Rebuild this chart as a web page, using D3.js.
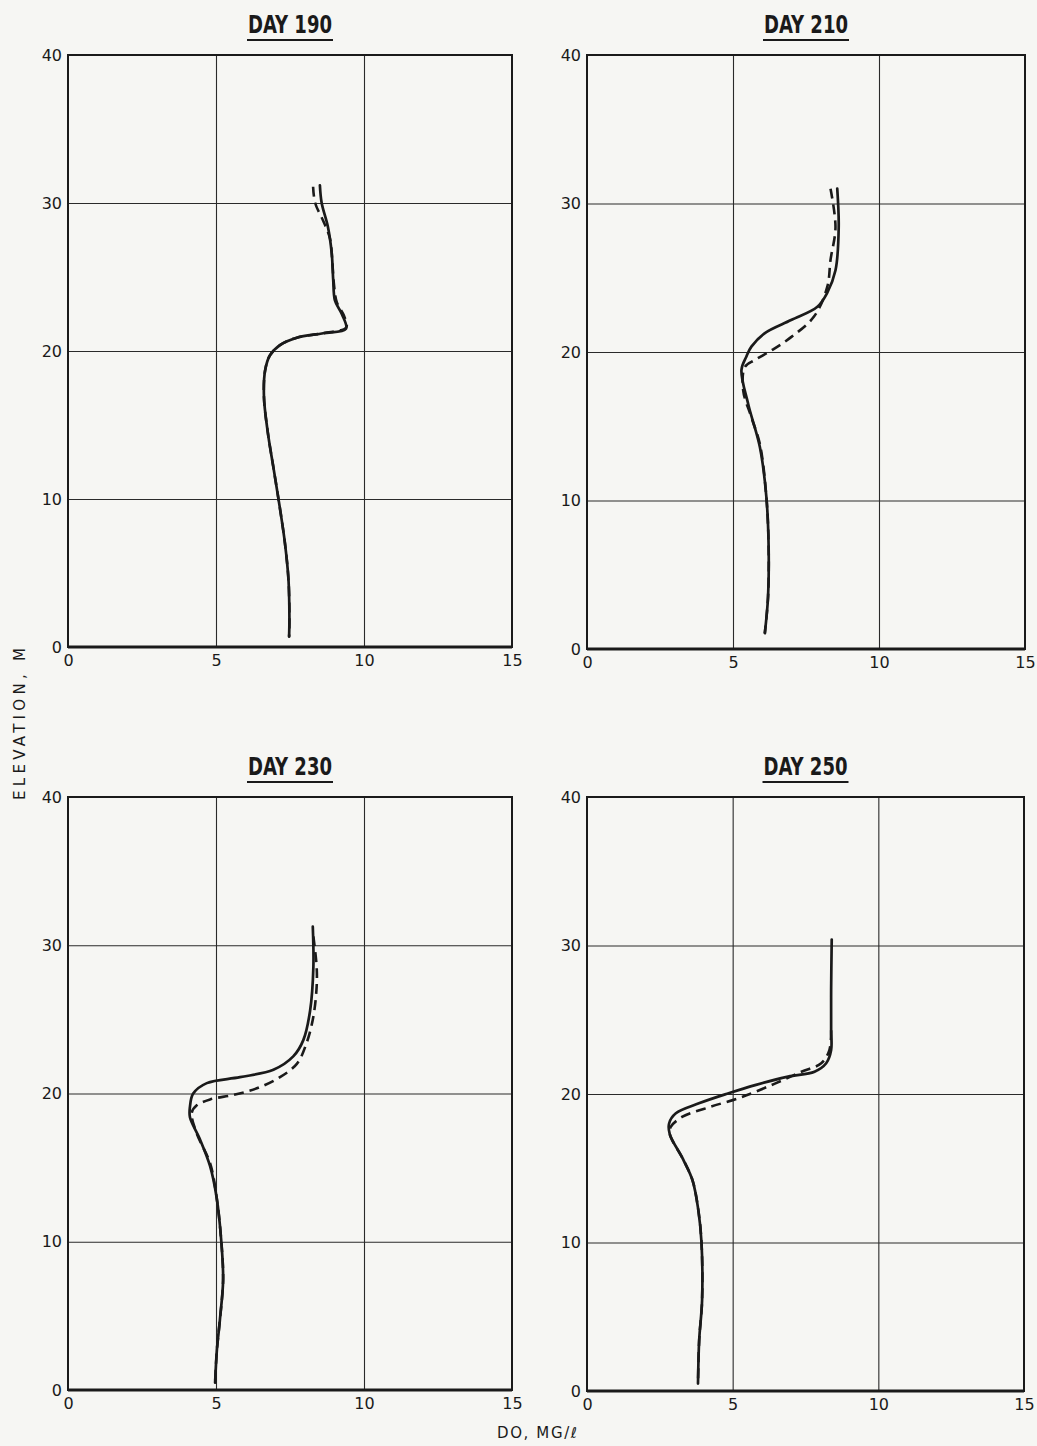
<!DOCTYPE html>
<html><head><meta charset="utf-8">
<script src="https://cdn.jsdelivr.net/npm/d3@7"></script>
<style>body{margin:0;background:#f6f6f3;} svg{display:block}</style>
</head><body><svg id="c" width="1037" height="1446"></svg>
<script>
// ---- data ----
const dayTitles = ["DAY 190", "DAY 210", "DAY 230", "DAY 250"];
const xTickValues = [0, 5, 10, 15];
const yTickValues = [0, 10, 20, 30, 40];
const xAxisTitle = "DO, MG/\u2113";
const yAxisTitle = "ELEVATION, M";

// [DO mg/l, elevation m]
const day190Solid = [[8.51,31.2],[8.57,30.0],[8.78,28.4],[8.91,26.6],[8.96,24.8],[9.02,23.4],[9.25,22.5],[9.39,21.5],[8.62,21.2],[7.73,20.9],[7.16,20.4],[6.82,19.7],[6.66,18.7],[6.62,16.9],[6.75,14.5],[6.95,12.0],[7.15,9.5],[7.33,7.0],[7.45,4.5],[7.48,2.0],[7.47,0.7]];
const day190Dashed = [[8.28,31.1],[8.35,30.0],[8.62,28.8],[8.85,27.6],[8.93,26.0],[8.98,24.6],[9.08,23.3],[9.32,22.4],[9.4,21.6],[8.62,21.2],[7.73,20.9],[7.16,20.4],[6.82,19.7],[6.66,18.7],[6.62,16.9],[6.75,14.5],[6.95,12.0],[7.15,9.5],[7.33,7.0],[7.45,4.5],[7.48,2.0],[7.47,0.7]];

const day210Solid = [[8.57,31.0],[8.62,28.4],[8.51,25.5],[8.23,24.0],[7.89,23.05],[6.99,22.15],[6.08,21.26],[5.63,20.36],[5.46,19.7],[5.29,18.8],[5.52,16.5],[5.92,13.6],[6.14,10.3],[6.22,6.9],[6.2,3.5],[6.09,1.06]];
const day210Dashed = [[8.34,31.0],[8.51,28.4],[8.34,26.2],[8.23,24.4],[7.78,22.4],[6.99,21.0],[6.31,20.1],[5.75,19.46],[5.41,19.0],[5.35,17.4],[5.63,15.6],[5.92,13.8],[6.14,10.3],[6.22,6.9],[6.2,3.5],[6.09,1.06]];

const day230Solid = [[8.27,31.25],[8.29,28.55],[8.18,25.6],[7.95,23.6],[7.61,22.5],[6.94,21.6],[5.81,21.1],[4.69,20.7],[4.23,20.0],[4.12,19.1],[4.12,18.4],[4.46,16.9],[4.8,15.1],[5.02,13.0],[5.18,10.0],[5.24,7.4],[5.13,4.7],[5.03,2.7],[4.97,0.5]];
const day230Dashed = [[8.29,30.6],[8.4,28.55],[8.4,27.2],[8.29,25.2],[8.06,23.4],[7.73,22.0],[7.16,21.1],[6.38,20.35],[5.59,19.9],[4.8,19.6],[4.35,19.2],[4.18,18.7],[4.35,17.3],[4.8,15.3],[5.02,13.0],[5.18,10.0],[5.24,7.4],[5.13,4.7],[5.03,2.7],[4.97,0.5]];

const day250Solid = [[8.4,30.4],[8.38,27.0],[8.38,24.3],[8.38,22.96],[8.21,22.07],[7.81,21.5],[6.9,21.17],[5.77,20.6],[4.86,20.05],[3.84,19.37],[3.05,18.7],[2.82,18.03],[2.84,17.3],[3.3,15.6],[3.62,14.2],[3.82,12.2],[3.93,10.0],[3.95,6.1],[3.85,3.4],[3.81,0.5]];
const day250Dashed = [[8.38,24.3],[8.32,22.96],[8.04,22.07],[7.36,21.5],[6.45,20.7],[5.32,19.8],[4.18,19.1],[3.28,18.47],[2.88,17.8],[2.84,17.3],[3.3,15.6],[3.62,14.2],[3.82,12.2],[3.93,10.0],[3.95,6.1],[3.85,3.4],[3.81,0.5]];

const solidSeries = [day190Solid, day210Solid, day230Solid, day250Solid];
const dashedSeries = [day190Dashed, day210Dashed, day230Dashed, day250Dashed];

// ---- layout ----
const panelBoxes = [
  {l:68, t:55, r:512, b:647},
  {l:587, t:55, r:1025, b:649},
  {l:68, t:797, r:512, b:1390},
  {l:587, t:797, r:1024, b:1391}
];
const ink = "#1a1a1a";
const tickFont = "'DejaVu Sans', sans-serif";
const titleFont = "'Liberation Sans Narrow', 'DejaVu Sans Condensed', sans-serif";

const svg = d3.select("#c");
svg.append("rect").attr("width",1037).attr("height",1446).attr("fill","#f6f6f3");

panelBoxes.forEach((p, i) => {
  const x = d3.scaleLinear().domain([0,15]).range([p.l, p.r]);
  const y = d3.scaleLinear().domain([0,40]).range([p.b, p.t]);
  const g = svg.append("g");

  // grid
  const gx = g.append("g").attr("transform", `translate(0,${p.b})`)
    .call(d3.axisBottom(x).tickValues([5,10]).tickSize(-(p.b - p.t)).tickFormat(""));
  gx.select(".domain").remove();
  gx.selectAll("line").attr("stroke", "#2a2a2a").attr("stroke-width", 1.1);
  const gy = g.append("g").attr("transform", `translate(${p.l},0)`)
    .call(d3.axisLeft(y).tickValues([10,20,30]).tickSize(-(p.r - p.l)).tickFormat(""));
  gy.select(".domain").remove();
  gy.selectAll("line").attr("stroke", "#2a2a2a").attr("stroke-width", 1.1);

  // frame
  g.append("rect").attr("x", p.l).attr("y", p.t).attr("width", p.r - p.l).attr("height", p.b - p.t)
    .attr("fill", "none").attr("stroke", ink).attr("stroke-width", 2);
  g.append("line").attr("x1", p.l).attr("x2", p.r).attr("y1", p.b).attr("y2", p.b)
    .attr("stroke", ink).attr("stroke-width", 3);

  // tick labels
  const ax = g.append("g").attr("transform", `translate(0,${p.b})`)
    .call(d3.axisBottom(x).tickValues(xTickValues).tickSize(0).tickPadding(8));
  ax.select(".domain").remove();
  ax.selectAll("text").attr("font-family", tickFont).attr("font-size", 16).attr("fill", ink);
  const ay = g.append("g").attr("transform", `translate(${p.l},0)`)
    .call(d3.axisLeft(y).tickValues(yTickValues).tickSize(0).tickPadding(6));
  ay.select(".domain").remove();
  ay.selectAll("text").attr("font-family", tickFont).attr("font-size", 16).attr("fill", ink);

  // title
  const cx = (p.l + p.r) / 2;
  g.append("text").attr("x", cx).attr("y", p.t - 22).attr("text-anchor", "middle")
    .attr("font-family", titleFont).attr("font-size", 24).attr("font-weight", "bold")
    .attr("fill", ink).attr("textLength", 84).attr("lengthAdjust", "spacingAndGlyphs")
    .text(dayTitles[i]);
  g.append("line").attr("x1", cx - 43).attr("x2", cx + 43).attr("y1", p.t - 15).attr("y2", p.t - 15)
    .attr("stroke", ink).attr("stroke-width", 2);

  // curves
  const line = d3.line().x(d => x(d[0])).y(d => y(d[1])).curve(d3.curveCatmullRom.alpha(0.5));
  g.append("path").attr("d", line(dashedSeries[i])).attr("fill", "none").attr("stroke", ink)
    .attr("stroke-width", 2.6).attr("stroke-dasharray", "10,6");
  g.append("path").attr("d", line(solidSeries[i])).attr("fill", "none").attr("stroke", ink)
    .attr("stroke-width", 2.7).attr("stroke-linecap", "round");
});

// axis titles
svg.append("text").attr("transform", "translate(25,724) rotate(-90)").attr("text-anchor", "middle")
  .attr("font-family", tickFont).attr("font-size", 15).attr("fill", ink)
  .attr("textLength", 152).attr("lengthAdjust", "spacing").text(yAxisTitle);
svg.append("text").attr("x", 537).attr("y", 1438).attr("text-anchor", "middle")
  .attr("font-family", tickFont).attr("font-size", 15).attr("fill", ink)
  .attr("textLength", 80).attr("lengthAdjust", "spacing").text(xAxisTitle);
</script>
</body></html>
